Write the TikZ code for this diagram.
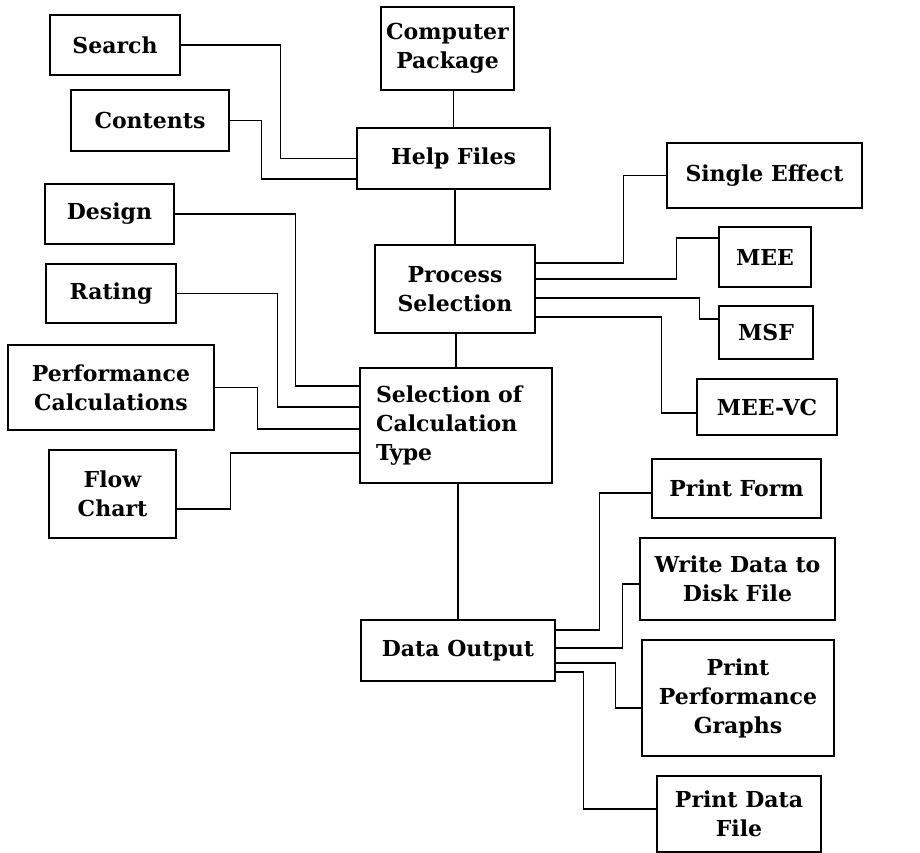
\documentclass[tikz,border=0pt]{standalone}
\usepackage{fontspec}
\setmainfont{DejaVu Serif}
\usepackage{tikz}

\tikzset{
  box/.style={draw, line width=1.4pt, align=center, inner sep=2pt,
    font=\fontsize{22}{29}\selectfont\bfseries},
  wire/.style={line width=1.4pt}
}

\begin{document}
\begin{tikzpicture}[x=1pt, y=-1pt]
      \useasboundingbox (0,0) rectangle (920,853); % page frame

      % top of the tree
      \node[box, minimum width=133, minimum height=83] (cp) at (447.5,48.5) {Computer\\Package};
      \node[box, minimum width=193, minimum height=61] (help) at (453.5,158.5) {Help Files};
      \node[box, minimum width=130, minimum height=60] (search) at (115,45) {Search};
      \node[box, minimum width=158, minimum height=61] (contents) at (150,120.5) {Contents};

      % process choice and its four branches
      \node[box, minimum width=160, minimum height=88] (proc) at (455,289) {Process\\Selection};
      \node[box, minimum width=195, minimum height=65] (single) at (764.5,175.5) {Single Effect};
      \node[box, minimum width=92, minimum height=60] (mee) at (765,257) {MEE};
      \node[box, minimum width=94, minimum height=53] (msf) at (766,332.5) {MSF};
      \node[box, minimum width=140, minimum height=56] (meevc) at (767,407) {MEE-VC};

      % calculation type with the options on the left
      \node[box, minimum width=192, minimum height=115, align=left, text width=160] (sel) at (456,425.5) {Selection of\\Calculation\\Type};
      \node[box, minimum width=129, minimum height=60] (design) at (109.5,214) {Design};
      \node[box, minimum width=130, minimum height=59] (rating) at (111,293.5) {Rating};
      \node[box, minimum width=206, minimum height=85] (perf) at (111,387.5) {Performance\\Calculations};
      \node[box, minimum width=127, minimum height=88] (flow) at (112.5,494) {Flow\\Chart};

      % output stage
      \node[box, minimum width=194, minimum height=61] (out) at (458,650.5) {Data Output};
      \node[box, minimum width=169, minimum height=59] (pform) at (736.5,488.5) {Print Form};
      \node[box, minimum width=195, minimum height=82] (write) at (737.5,579) {Write Data to\\Disk File};
      \node[box, minimum width=192, minimum height=116] (pgraph) at (738,698) {Print\\Performance\\Graphs};
      \node[box, minimum width=164, minimum height=76] (pdata) at (739,814) {Print Data\\File};

      % main column
      \draw[wire] (help.north) -- (help.north |- cp.south);
      \draw[wire] (proc.north) -- (proc.north |- help.south);
      \draw[wire] (sel.north) -- (sel.north |- proc.south);
      \draw[wire] (out.north) -- (out.north |- sel.south);

      % help files
      \draw[wire] (search.east) -- ++(100,0) |- (help.west);
      \draw[wire] (contents.east) -- ++(32,0) |- ([yshift=-20.5pt]help.west);

      % processes
      \draw[wire] ([yshift=26pt]proc.east) -| ([xshift=-43pt]single.west) -- (single.west);
      \draw[wire] ([yshift=10pt]proc.east) -| ([xshift=-42pt,yshift=19pt]mee.west) -- ([yshift=19pt]mee.west);
      \draw[wire] ([yshift=-9pt]proc.east) -| ([xshift=-19pt,yshift=13.5pt]msf.west) -- ([yshift=13.5pt]msf.west);
      \draw[wire] ([yshift=-28pt]proc.east) -| ([xshift=-35pt,yshift=-6pt]meevc.west) -- ([yshift=-6pt]meevc.west);

      % calculation types
      \draw[wire] (design.east) -- ++(121,0) |- ([yshift=39.5pt]sel.west);
      \draw[wire] (rating.east) -- ++(101,0) |- ([yshift=18.5pt]sel.west);
      \draw[wire] (perf.east) -- ++(43,0) |- ([yshift=-3.5pt]sel.west);
      \draw[wire] ([yshift=-15pt]flow.east) -- ++(54,0) |- ([yshift=-27.5pt]sel.west);

      % outputs
      \draw[wire] ([yshift=20.5pt]out.east) -| ([xshift=-52pt,yshift=-4.5pt]pform.west) -- ([yshift=-4.5pt]pform.west);
      \draw[wire] ([yshift=2.5pt]out.east) -| ([xshift=-17pt,yshift=-5pt]write.west) -- ([yshift=-5pt]write.west);
      \draw[wire] ([yshift=-12.5pt]out.east) -| ([xshift=-26pt,yshift=-10pt]pgraph.west) -- ([yshift=-10pt]pgraph.west);
      \draw[wire] ([yshift=-21.5pt]out.east) -| ([xshift=-73pt,yshift=5pt]pdata.west) -- ([yshift=5pt]pdata.west);
\end{tikzpicture}
\end{document}
